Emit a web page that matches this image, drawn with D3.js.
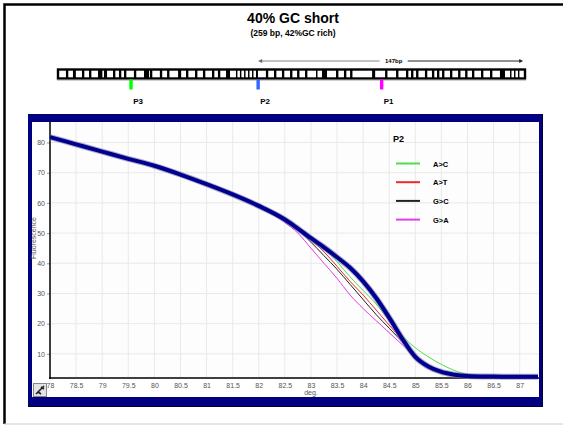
<!DOCTYPE html>
<html>
<head>
<meta charset="utf-8">
<script src="https://cdn.jsdelivr.net/npm/d3@7"></script>
<style>
  html, body { margin: 0; padding: 0; background: #fff; }
  svg { display: block; font-family: "Liberation Sans", Arial, sans-serif; }
</style>
</head>
<body>
<div id="chart"></div>
<script>
const width = 563;
const height = 425;

// melt curve data (deg -> fluorescence)
const temps = [78, 78.5, 79, 79.5, 80, 80.5, 81, 81.5, 82, 82.5, 82.75, 83, 83.25, 83.5, 83.75, 84, 84.25, 84.5, 84.75, 85, 85.25, 85.5, 85.75, 86, 86.5, 87, 87.35];
const wildType = [81.8, 79.4, 77.0, 74.6, 72.3, 69.4, 66.2, 62.8, 59.0, 54.5, 51.5, 48.3, 45.3, 42.0, 38.5, 34.0, 28.5, 22.0, 15.0, 9.0, 5.8, 4.0, 3.1, 2.7, 2.5, 2.4, 2.4];
const aToC = [81.8, 79.4, 77.0, 74.6, 72.3, 69.4, 66.2, 62.8, 59.0, 54.5, 51.5, 48.2, 45.0, 40.5, 35.5, 31.0, 26.5, 21.0, 16.0, 12.0, 9.0, 6.5, 4.5, 3.2, 2.5, 2.4, 2.4];
const aToT = [81.8, 79.4, 77.0, 74.6, 72.3, 69.4, 66.2, 62.8, 59.0, 54.3, 51.2, 47.8, 43.8, 39.0, 34.0, 29.5, 24.5, 19.5, 14.5, 9.0, 6.0, 4.2, 3.2, 2.7, 2.5, 2.4, 2.4];
const gToC = [81.8, 79.4, 77.0, 74.6, 72.3, 69.4, 66.2, 62.8, 59.0, 54.3, 51.0, 47.0, 42.5, 38.0, 33.0, 28.0, 23.0, 18.5, 14.0, 9.5, 6.0, 4.0, 3.0, 2.6, 2.4, 2.4, 2.4];
const gToA = [81.8, 79.4, 77.0, 74.6, 72.3, 69.4, 66.2, 62.8, 58.8, 53.5, 50.0, 45.0, 40.0, 35.0, 29.5, 25.0, 21.0, 17.0, 13.0, 9.0, 6.0, 4.0, 3.0, 2.6, 2.4, 2.4, 2.4];

const mutants = [
    {name: "A>C", values: aToC, color: "#4be04b"},
    {name: "A>T", values: aToT, color: "#ee2a2a"},
    {name: "G>C", values: gToC, color: "#222222"},
    {name: "G>A", values: gToA, color: "#e33ee3"}
];

const xTicks = [78, 78.5, 79, 79.5, 80, 80.5, 81, 81.5, 82, 82.5, 83, 83.5, 84, 84.5, 85, 85.5, 86, 86.5, 87];
const yTicks = [10, 20, 30, 40, 50, 60, 70, 80];

// amplicon map (259 bp), black stripes as [start bp, length bp]
const seqLength = 259;
const stripes = [[4.4, 1.3], [8.3, 1.6], [13.3, 1.3], [17.2, 1.3], [22.2, 2.4], [25.5, 1.7], [30.5, 1.3], [33.8, 1.3], [36.6, 1.3],
    [42.1, 1.3], [47.7, 2.8], [51.0, 1.3], [56.5, 1.3], [60.5, 1.3], [66.6, 1.7], [71.0, 1.3], [76.0, 1.3], [80.4, 1.3], [85.4, 1.3], [88.7, 1.3],
    [93.2, 2.2], [98.7, 0.8], [100.9, 0.8], [103.2, 0.8], [105.4, 0.8], [107.6, 0.8], [109.8, 1.1], [115.3, 1.3], [119.8, 1.3], [124.2, 1.3],
    [128.7, 1.3], [132.6, 1.3], [137.0, 1.3], [143.1, 0.8], [146.4, 2.8], [154.2, 1.3], [158.6, 1.3], [162.0, 1.3], [174.2, 1.7],
    [181.4, 1.3], [187.5, 1.3], [193.0, 1.3], [195.8, 1.3], [198.6, 1.3], [203.5, 1.3], [207.4, 1.3], [210.2, 1.3], [213.0, 1.3], [217.4, 1.3],
    [221.9, 1.3], [225.8, 1.3], [229.6, 1.3], [234.6, 1.3], [239.6, 1.3], [245.1, 2.8], [250.7, 0.8], [252.9, 0.8], [255.1, 0.8]];
const probes = [
    {name: "P3", pos: 40.5, color: "#00ff00"},
    {name: "P2", pos: 111, color: "#3366ff"},
    {name: "P1", pos: 179.5, color: "#ff00ff"}
];
const spanFrom = 111;
const spanTo = 258;

const svg = d3.select("#chart").append("svg")
    .attr("width", width)
    .attr("height", height);

// 外枠
svg.append("path")
    .attr("d", "M4.5,424 V4.5 H570")
    .attr("fill", "none")
    .attr("stroke", "#000")
    .attr("stroke-width", 2.5);
svg.append("line")
    .attr("x1", 4).attr("x2", width).attr("y1", 424).attr("y2", 424)
    .attr("stroke", "#ccc");

svg.append("text")
    .attr("x", 293).attr("y", 23)
    .attr("text-anchor", "middle")
    .attr("font-size", 14).attr("font-weight", "bold")
    .text("40% GC short");
svg.append("text")
    .attr("x", 293).attr("y", 36)
    .attr("text-anchor", "middle")
    .attr("font-size", 8.5).attr("font-weight", "bold")
    .text("(259 bp, 42%GC rich)");

// sequence bar
const bp = d3.scaleLinear().domain([0, seqLength]).range([58, 525]);
const barTop = 69.5, barH = 9;

svg.append("rect")
    .attr("x", bp(0)).attr("y", barTop)
    .attr("width", bp(seqLength) - bp(0)).attr("height", barH)
    .attr("fill", "#fff").attr("stroke", "#000").attr("stroke-width", 2.4);
svg.append("g").selectAll("rect")
    .data(stripes)
    .join("rect")
        .attr("x", d => bp(d[0]))
        .attr("y", barTop)
        .attr("width", d => bp(d[1]) - bp(0))
        .attr("height", barH)
        .attr("fill", "#000");
svg.append("line")
    .attr("x1", bp(0) - 1).attr("x2", bp(seqLength) + 1)
    .attr("y1", barTop + barH + 1.6).attr("y2", barTop + barH + 1.6)
    .attr("stroke", "#999").attr("stroke-width", 0.8);

svg.append("g").selectAll("rect")
    .data(probes)
    .join("rect")
        .attr("x", d => bp(d.pos) - 1.7)
        .attr("y", barTop + barH + 1)
        .attr("width", 3.4).attr("height", 10)
        .attr("fill", d => d.color);
svg.append("g").selectAll("text")
    .data(probes)
    .join("text")
        .attr("x", d => bp(d.pos) + 7)
        .attr("y", 104)
        .attr("text-anchor", "middle")
        .attr("font-size", 8).attr("font-weight", "bold")
        .text(d => d.name);

// 147bp arrow
const arrowY = 61;
const labelX = (bp(spanFrom) + bp(spanTo)) / 2 + 3;
svg.append("line")
    .attr("x1", bp(spanFrom) + 2).attr("x2", labelX - 14)
    .attr("y1", arrowY).attr("y2", arrowY)
    .attr("stroke", "#888").attr("stroke-width", 1);
svg.append("line")
    .attr("x1", labelX + 14).attr("x2", bp(spanTo) - 2)
    .attr("y1", arrowY).attr("y2", arrowY)
    .attr("stroke", "#222").attr("stroke-width", 1);
svg.append("path")
    .attr("d", `M${bp(spanFrom)},${arrowY} l4,-2 v4 z`)
    .attr("fill", "#666");
svg.append("path")
    .attr("d", `M${bp(spanTo)},${arrowY} l-4,-2 v4 z`)
    .attr("fill", "#222");
svg.append("text")
    .attr("x", labelX).attr("y", arrowY + 2)
    .attr("text-anchor", "middle")
    .attr("font-size", 6).attr("font-weight", "bold")
    .text("147bp");

// panel
svg.append("rect")
    .attr("x", 28).attr("y", 114).attr("width", 515).attr("height", 293)
    .attr("fill", "#000080");
svg.append("path")
    .attr("d", "M28,406.5 H542.5 V114")
    .attr("fill", "none").attr("stroke", "#000030").attr("stroke-width", 1);
svg.append("rect")
    .attr("x", 32).attr("y", 122).attr("width", 507).attr("height", 275)
    .attr("fill", "#fff");

const x = d3.scaleLinear().domain([78, 87.37]).range([50, 539]);
const y = d3.scaleLinear().domain([2, 86.8]).range([378, 122]);

const plot = svg.append("g");
plot.append("rect")
    .attr("x", 50).attr("y", 122).attr("width", 489).attr("height", 256)
    .attr("fill", "#fdfdfd");

// grid
plot.append("g").selectAll("line")
    .data(xTicks.slice(1))
    .join("line")
        .attr("x1", d => x(d)).attr("x2", d => x(d))
        .attr("y1", 122).attr("y2", 378)
        .attr("stroke", "#e9e9e9");
plot.append("g").selectAll("line")
    .data(yTicks)
    .join("line")
        .attr("x1", 50).attr("x2", 539)
        .attr("y1", d => y(d)).attr("y2", d => y(d))
        .attr("stroke", "#e9e9e9");

// axes
const yAxis = plot.append("g")
    .attr("transform", "translate(50,0)")
    .call(d3.axisLeft(y).tickValues(yTicks).tickSize(3).tickPadding(2));
const xAxis = plot.append("g")
    .attr("transform", "translate(0,378)")
    .call(d3.axisBottom(x).tickValues(xTicks).tickSize(0).tickPadding(5).tickFormat(d3.format("")));
[xAxis, yAxis].forEach(a => {
    a.select(".domain").remove();
    a.selectAll("text").attr("font-size", 7).attr("fill", "#555").attr("font-family", "Liberation Sans, Arial, sans-serif");
    a.selectAll("line").attr("stroke", "#999");
});
plot.append("line")
    .attr("x1", 50).attr("x2", 50).attr("y1", 122).attr("y2", 379)
    .attr("stroke", "#000").attr("stroke-width", 1.5);
plot.append("line")
    .attr("x1", 49).attr("x2", 539).attr("y1", 378).attr("y2", 378)
    .attr("stroke", "#000").attr("stroke-width", 1.5);

plot.append("text")
    .attr("x", x(83)).attr("y", 395)
    .attr("text-anchor", "middle")
    .attr("font-size", 7).attr("fill", "#555")
    .text("deg.");
plot.append("text")
    .attr("transform", "translate(36,238) rotate(-90)")
    .attr("text-anchor", "middle")
    .attr("font-size", 7).attr("fill", "#555")
    .text("Fluorescence");

// small icon bottom left
svg.append("rect")
    .attr("x", 33.5).attr("y", 383.5).attr("width", 13).attr("height", 13)
    .attr("fill", "#e4e4e4").attr("stroke", "#888");
svg.append("path")
    .attr("d", "M36,394 L44,386 M38,392 l3,2 M41,387 l3,2")
    .attr("stroke", "#222").attr("stroke-width", 1.6).attr("fill", "none");

// curves
const line = d3.line()
    .x((d, i) => x(temps[i]))
    .y(d => y(d))
    .curve(d3.curveMonotoneX);

const curves = plot.append("g");
curves.selectAll("path.mut")
    .data(mutants)
    .join("path")
        .attr("class", "mut")
        .attr("d", d => line(d.values))
        .attr("fill", "none")
        .attr("stroke", d => d.color)
        .attr("stroke-width", 1);
curves.append("path")
    .attr("d", line(wildType))
    .attr("fill", "none")
    .attr("stroke", "#7a6fa8")
    .attr("stroke-width", 6)
    .attr("stroke-opacity", 0.6);
curves.append("path")
    .attr("d", line(wildType))
    .attr("fill", "none")
    .attr("stroke", "#000090")
    .attr("stroke-width", 4);

// legend
const legend = svg.append("g");
legend.append("text")
    .attr("x", 393).attr("y", 142)
    .attr("font-size", 9).attr("font-weight", "bold")
    .text("P2");
const item = legend.selectAll("g.item")
    .data(mutants)
    .join("g")
        .attr("class", "item")
        .attr("transform", (d, i) => `translate(396,${163.5 + i * 18.7})`);
item.append("line")
    .attr("x1", 0).attr("x2", 24)
    .attr("stroke", d => d.color).attr("stroke-width", 2);
item.append("text")
    .attr("x", 37).attr("y", 3)
    .attr("font-size", 7.5).attr("font-weight", "bold")
    .text(d => d.name);
</script>
</body>
</html>
